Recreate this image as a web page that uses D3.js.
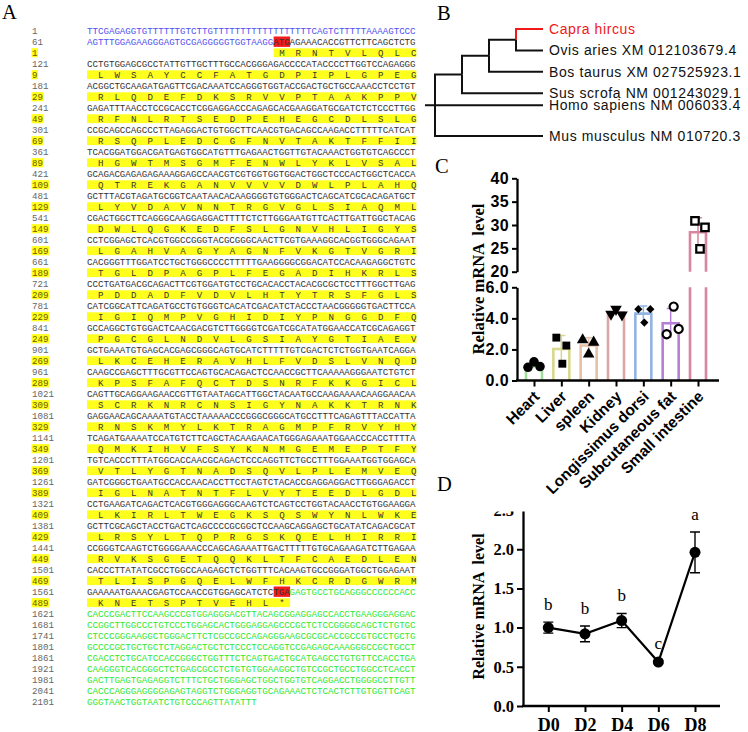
<!DOCTYPE html>
<html lang="en">
<head>
<meta charset="UTF-8">
<title>Capra hircus sequence, tree and expression</title>
<script src="https://cdn.jsdelivr.net/npm/d3@7"></script>
<style>
  body { margin: 0; background: #fff; }
  svg { display: block; }
  .seq text { font-family: "Liberation Mono", "DejaVu Sans Mono", monospace; font-size: 9.15px; }
  .tree text { font-family: "Liberation Sans", Arial, sans-serif; font-size: 14px; letter-spacing: 0.6px; }
  .serif { font-family: "Liberation Serif", "Times New Roman", serif; }
  .sans { font-family: "Liberation Sans", Arial, sans-serif; }
  .pre { white-space: pre; }
</style>
</head>
<body>
<svg id="fig" width="748" height="732"></svg>
<script>
// ---------------- data ----------------
// A: nucleotide rows (60 nt each) and translated rows
var ntRows = [
  "TTCGAGAGGTGTTTTTTGTCTTGTTTTTTTTTTTTTTTTTTCAGTCTTTTTAAAAGTCCC",
  "AGTTTGGAGAAGGGAGTGCGAGGGGGTGGTAAGGATGAGAAACACCGTTCTTCAGCTCTG",
  "CCTGTGGAGCGCCTATTGTTGCTTTGCCACGGGAGACCCCATACCCCTTGGTCCAGAGGG",
  "ACGGCTGCAAGATGAGTTCGACAAATCCAGGGTGGTACCGACTGCTGCCAAACCTCCTGT",
  "GAGATTTAACCTCCGCACCTCGGAGGACCCAGAGCACGAAGGATGCGATCTCTCCCTTGG",
  "CCGCAGCCAGCCCTTAGAGGACTGTGGCTTCAACGTGACAGCCAAGACCTTTTTCATCAT",
  "TCACGGATGGACGATGAGTGGCATGTTTGAGAACTGGTTGTACAAACTGGTGTCAGCCCT",
  "GCAGACGAGAGAGAAAGGAGCCAACGTCGTGGTGGTGGACTGGCTCCCACTGGCTCACCA",
  "GCTTTACGTAGATGCGGTCAATAACACAAGGGGTGTGGGACTCAGCATCGCACAGATGCT",
  "CGACTGGCTTCAGGGCAAGGAGGACTTTTCTCTTGGGAATGTTCACTTGATTGGCTACAG",
  "CCTCGGAGCTCACGTGGCCGGGTACGCGGGCAACTTCGTGAAAGGCACGGTGGGCAGAAT",
  "CACGGGTTTGGATCCTGCTGGGCCCCTTTTTGAAGGGGCGGACATCCACAAGAGGCTGTC",
  "CCCTGATGACGCAGACTTCGTGGATGTCCTGCACACCTACACGCGCTCCTTTGGCTTGAG",
  "CATCGGCATTCAGATGCCTGTGGGTCACATCGACATCTACCCTAACGGGGGTGACTTCCA",
  "GCCAGGCTGTGGACTCAACGACGTCTTGGGGTCGATCGCATATGGAACCATCGCAGAGGT",
  "GCTGAAATGTGAGCACGAGCGGGCAGTGCATCTTTTTGTCGACTCTCTGGTGAATCAGGA",
  "CAAGCCGAGCTTTGCGTTCCAGTGCACAGACTCCAACCGCTTCAAAAAGGGAATCTGTCT",
  "CAGTTGCAGGAAGAACCGTTGTAATAGCATTGGCTACAATGCCAAGAAAACAAGGAACAA",
  "GAGGAACAGCAAAATGTACCTAAAAACCCGGGCGGGCATGCCTTTCAGAGTTTACCATTA",
  "TCAGATGAAAATCCATGTCTTCAGCTACAAGAACATGGGAGAAATGGAACCCACCTTTTA",
  "TGTCACCCTTTATGGCACCAACGCAGACTCCCAGGTTCTGCCTTTGGAAATGGTGGAGCA",
  "GATCGGGCTGAATGCCACCAACACCTTCCTAGTCTACACCGAGGAGGACTTGGGAGACCT",
  "CCTGAAGATCAGACTCACGTGGGAGGGCAAGTCTCAGTCCTGGTACAACCTGTGGAAGGA",
  "GCTTCGCAGCTACCTGACTCAGCCCCGCGGCTCCAAGCAGGAGCTGCATATCAGACGCAT",
  "CCGGGTCAAGTCTGGGGAAACCCAGCAGAAATTGACTTTTTGTGCAGAAGATCTTGAGAA",
  "CACCCTTATATCGCCTGGCCAAGAGCTCTGGTTTCACAAGTGCCGGGATGGCTGGAGAAT",
  "GAAAAATGAAACGAGTCCAACCGTGGAGCATCTCTGAGAGTGCCTGCAGGGCCCCCCACC",
  "CACCCGACTTCCAAGCCCGTGGAGGGACGTTACAGCGGAGGAGCCACCTGAAGGGAGGAC",
  "CCGGCTTGGCCCTGTCCCTGGAGCACTGGGAGGAGCCCGCTCTCCGGGGCAGCTCTGTGC",
  "CTCCCGGGAAGGCTGGGACTTCTCGCCGCCAGAGGGAAGCGCGCACCGCCGTGCCTGCTG",
  "GCCCCGCTGCTGCTCTAGGACTGCTCTCCCTCCAGGTCCGAGAGCAAAGGGCCGCTGCCT",
  "CGACCTCTGCATCCACCGGGCTGGTTTCTCAGTGACTGCATGAGCCTGTGTTCCACCTGA",
  "CAAGGGTCACGGGCTCTGAGCGCCTCTGTGTGGAAGGCTGTCCGCTGCCTGGCCTCACCT",
  "GACTTGAGTGAGAGGTCTTTCTGCTGGGAGCTGGCTGGTGTCAGGACCTGGGGCCTTGTT",
  "CACCCAGGGAGGGGAGAGTAGGTCTGGGAGGTGCAGAAACTCTCACTCTTGTGGTTCAGT",
  "GGGTAACTGGTAATCTGTCCCAGTTATATTT"
];
var aaRows = [
  "MRNTVLQLC",
  "LWSAYCCFATGDPIPLGPEG",
  "RLQDEFDKSRVVPTAAKPPV",
  "RFNLRTSEDPEHEGCDLSLG",
  "RSQPLEDCGFNVTAKTFFII",
  "HGWTMSGMFENWLYKLVSAL",
  "QTREKGANVVVVDWLPLAHQ",
  "LYVDAVNNTRGVGLSIAQML",
  "DWLQGKEDFSLGNVHLIGYS",
  "LGAHVAGYAGNFVKGTVGRI",
  "TGLDPAGPLFEGADIHKRLS",
  "PDDADFVDVLHTYTRSFGLS",
  "IGIQMPVGHIDIYPNGGDFQ",
  "PGCGLNDVLGSIAYGTIAEV",
  "LKCEHERAVHLFVDSLVNQD",
  "KPSFAFQCTDSNRFKKGICL",
  "SCRKNRCNSIGYNAKKTRNK",
  "RNSKMYLKTRAGMPFRVYHY",
  "QMKIHVFSYKNMGEMEPTFY",
  "VTLYGTNADSQVLPLEMVEQ",
  "IGLNATNTFLVYTEEDLGDL",
  "LKIRLTWEGKSQSWYNLWKE",
  "LRSYLTQPRGSKQELHIRRI",
  "RVKSGETQQKLTFCAEDLEN",
  "TLISPGQELWFHKCRDGWRM",
  "KNETSPTVEHL*"
];
var aaStarts = [1, 9, 29, 49, 69, 89, 109, 129, 149, 169, 189, 209, 229,
                249, 269, 289, 309, 329, 349, 369, 389, 409, 429, 449, 469, 489];
var cdsStart = 94;   // 0-based index of the A of ATG

// B: tree
var treeData = {children: [
  {children: [
    {children: [
      {children: [{name: "Capra hircus"}, {name: "Ovis aries XM 012103679.4"}]},
      {name: "Bos taurus XM 027525923.1"}]},
    {name: "Sus scrofa NM 001243029.1"}]},
  {name: "Homo sapiens NM 006033.4"},
  {name: "Mus musculus NM 010720.3"}
]};
var highlight = "Capra hircus";

// C: tissue expression, three replicates each
var tissues = ["Heart", "Liver", "spleen", "Kidney", "Longissimus dorsi", "Subcutaneous fat", "Small intestine"];
var replicates = [
  [0.85, 1.2, 0.9],
  [2.76, 2.25, 1.08],
  [2.61, 2.46, 1.69],
  [4.27, 4.6, 4.23],
  [4.59, 4.59, 3.73],
  [4.76, 2.98, 3.32],
  [30.9, 29.5, 24.9]
];
var lowTicks = [0, 2, 4, 6];
var highTicks = [20, 25, 30, 35, 40];

// D: differentiation time course
var days = ["D0", "D2", "D4", "D6", "D8"];
var dayMeans = [1.0, 0.92, 1.09, 0.56, 1.96];
var daySD = [0.07, 0.1, 0.09, 0.02, 0.26];
var dayLetters = ["b", "b", "b", "c", "a"];
var dTicks = [0, 0.5, 1.0, 1.5, 2.0, 2.5];

// ---------------- drawing ----------------
var svg = d3.select("#fig");

// panel letters
[["A", 2, 19], ["B", 437, 20], ["C", 435, 173], ["D", 437, 491]].forEach(function (p) {
  svg.append("text").attr("class", "serif").attr("x", p[1]).attr("y", p[2])
    .attr("font-size", 20.5).text(p[0]);
});

// ----- A -----
var colX = d3.scaleLinear().domain([0, 60]).range([87, 416.4]);
var lineY = d3.scaleLinear().domain([0, 61]).range([30.7, 701.7]);
var cw = colX(1) - colX(0);
var nAA = d3.sum(aaRows, function (r) { return r.length; });
var cdsEnd = cdsStart + 3 * nAA - 1;

function ntLine(i) { return i < 2 ? i : (i <= aaRows.length ? 2 * i - 1 : i + aaRows.length); }
function aaLine(j) { return 2 * (j + 1); }
function ntColor(g) { return g < cdsStart ? "#5050f0" : (g <= cdsEnd ? "#333" : "#2ee82e"); }

var gA = svg.append("g").attr("class", "seq");

// red start / stop codons
[cdsStart, cdsEnd - 2].forEach(function (g) {
  var r = Math.floor(g / 60), c = g % 60;
  gA.append("rect").attr("x", colX(c)).attr("y", lineY(ntLine(r)) - 5.2)
    .attr("width", 3 * cw).attr("height", 10.4).attr("fill", "#f21c1c");
});

ntRows.forEach(function (s, i) {
  var y = lineY(ntLine(i)) + 3.2;
  gA.append("text").attr("x", 32).attr("y", y).attr("fill", "#666").text(60 * i + 1);
  var runs = [];
  for (var c = 0; c < s.length; c++) {
    var col = ntColor(60 * i + c);
    if (runs.length && runs[runs.length - 1].color === col) runs[runs.length - 1].text += s[c];
    else runs.push({color: col, text: s[c]});
  }
  gA.append("text").attr("x", colX(0)).attr("y", y)
    .selectAll("tspan").data(runs).join("tspan")
    .attr("fill", function (d) { return d.color; })
    .text(function (d) { return d.text; });
});

var k0 = 0;
aaRows.forEach(function (row, j) {
  var yc = lineY(aaLine(j));
  var rowStart = 60 * (j + 1);
  var firstCol = cdsStart + 3 * k0 - rowStart;
  var lastCol = cdsStart + 3 * (k0 + row.length) - 1 - rowStart;
  var c0 = firstCol <= 1 ? 0 : firstCol, c1 = Math.min(60, lastCol + 1);
  gA.append("rect").attr("x", colX(c0)).attr("y", yc - 4.4)
    .attr("width", colX(c1) - colX(c0)).attr("height", 8.8).attr("fill", "#ffff1e");
  var lab = String(aaStarts[j]);
  gA.append("rect").attr("x", 31.5).attr("y", yc - 4.6)
    .attr("width", lab.length * cw + 1).attr("height", 9.2).attr("fill", "#ffff1e");
  gA.append("text").attr("x", 32).attr("y", yc + 3.2).attr("fill", "#6a5c00").text(lab);
  gA.selectAll(null).data(row.split("").map(function (a, i) {
      return {a: a, g: cdsStart + 3 * (k0 + i) + 1};
    }))
    .join("text")
    .attr("x", function (d) { return colX(d.g - rowStart + 0.5); })
    .attr("y", yc + 3.2)
    .attr("text-anchor", "middle").attr("fill", "#3a3a2a")
    .text(function (d) { return d.a; });
  k0 += row.length;
});

// ----- B -----
var root = d3.hierarchy(treeData);
var leafGap = 21.4, depthGap = 27;
d3.cluster().separation(function () { return 1; })
  .size([root.leaves().length * leafGap, root.height * depthGap])(root);
// root drawn at the middle of its outer children; middle child sits on the root level
root.x = (root.children[0].x + root.children[root.children.length - 1].x) / 2;
if (root.children.length === 3) root.children[1].x = root.x;

var tx = d3.scaleLinear().domain([0, root.height * depthGap]).range([435, 543]);
var ty = function (v) { return v + 29 - leafGap / 2; };
var gB = svg.append("g").attr("class", "tree");
gB.append("line").attr("x1", tx(0) - 10).attr("x2", tx(0))
  .attr("y1", ty(root.x)).attr("y2", ty(root.x)).attr("stroke", "#111").attr("stroke-width", 2);
gB.selectAll("path").data(root.links()).join("path")
  .attr("d", function (l) {
    return "M" + tx(l.source.y) + "," + ty(l.source.x) + "V" + ty(l.target.x) + "H" + tx(l.target.y);
  })
  .attr("fill", "none").attr("stroke-width", 2)
  .attr("stroke", function (l) { return l.target.data.name === highlight ? "#f01818" : "#111"; });
gB.selectAll("text").data(root.leaves()).join("text")
  .attr("x", function (d) { return tx(d.y) + 6; })
  .attr("y", function (d) { return ty(d.x) + 5; })
  .attr("fill", function (d) { return d.data.name === highlight ? "#f01818" : "#111"; })
  .text(function (d) { return d.data.name; });

// ----- C -----
var tissueColors = ["#a3dd9b", "#d8d88c", "#e6c1a8", "#d9a7a5", "#92b4e2", "#b47fd6", "#d8869f"];
var symbols = [
  {type: d3.symbolCircle, size: 72, open: false, rot: 0},
  {type: d3.symbolSquare, size: 62, open: false, rot: 0},
  {type: d3.symbolTriangle, size: 58, open: false, rot: 0},
  {type: d3.symbolTriangle, size: 58, open: false, rot: 180},
  {type: d3.symbolSquare, size: 34, open: false, rot: 45},
  {type: d3.symbolCircle, size: 52, open: true, rot: 0},
  {type: d3.symbolSquare, size: 56, open: true, rot: 0}
];
var jitter = [[-6, 0, 6], [-5, 5, 1], [-6, 5, 0], [-5, 0, 6], [-5, 7, 1], [3, -4, 8], [-3, 7, 2]];

var xC = d3.scalePoint().domain(tissues).range([534, 698]);
var yLo = d3.scaleLinear().domain([0, 6]).range([380.5, 287.3]);
var yHi = d3.scaleLinear().domain([20, 40]).range([271.7, 178.3]);
function yC(v) { return v <= 6 ? yLo(v) : yHi(v); }
var barW = 16;

var gC = svg.append("g");
var statsC = tissues.map(function (t, i) {
  return {t: t, i: i, m: d3.mean(replicates[i]), sd: d3.deviation(replicates[i]), vals: replicates[i]};
});

// bars
statsC.forEach(function (d) {
  var x0 = xC(d.t) - barW / 2, x1 = xC(d.t) + barW / 2;
  var p;
  if (d.m <= 6) {
    p = "M" + x0 + "," + yLo(0) + "V" + yLo(d.m) + "H" + x1 + "V" + yLo(0);
  } else {
    p = "M" + x0 + "," + yLo(0) + "V" + yLo(6) + "M" + x1 + "," + yLo(0) + "V" + yLo(6) +
        "M" + x0 + "," + yHi(20) + "V" + yHi(d.m) + "H" + x1 + "V" + yHi(20);
  }
  gC.append("path").attr("d", p).attr("fill", "none")
    .attr("stroke", tissueColors[d.i]).attr("stroke-width", 2.6);
  var xm = xC(d.t);
  gC.append("path")
    .attr("d", "M" + xm + "," + yC(d.m - d.sd) + "V" + yC(d.m + d.sd) +
               "M" + (xm - 4) + "," + yC(d.m + d.sd) + "H" + (xm + 4))
    .attr("fill", "none").attr("stroke", tissueColors[d.i]).attr("stroke-width", 1.5);
});

// points
statsC.forEach(function (d) {
  var s = symbols[d.i];
  gC.selectAll(null).data(d.vals).join("path")
    .attr("d", d3.symbol().type(s.type).size(s.size))
    .attr("transform", function (v, k) {
      return "translate(" + (xC(d.t) + jitter[d.i][k]) + "," + yC(v) + ") rotate(" + s.rot + ")";
    })
    .attr("fill", s.open ? "#fff" : "#000")
    .attr("stroke", "#000").attr("stroke-width", s.open ? 2.2 : 0);
});

// axes
function styleAxis(g, font) {
  g.select(".domain").attr("stroke", "#000").attr("stroke-width", 2.3);
  g.selectAll(".tick line").attr("stroke", "#000").attr("stroke-width", 2);
  g.selectAll(".tick text").attr("fill", "#000").attr("font-family", font)
    .attr("font-weight", "bold");
}
var sansF = "'Liberation Sans', Arial, sans-serif", serifF = "'Liberation Serif', 'Times New Roman', serif";
var axHi = gC.append("g").attr("transform", "translate(517,0)")
  .call(d3.axisLeft(yHi).tickValues(highTicks).tickSize(5).tickSizeOuter(0).tickPadding(3));
var axLo = gC.append("g").attr("transform", "translate(517,0)")
  .call(d3.axisLeft(yLo).tickValues(lowTicks).tickSize(5).tickSizeOuter(0).tickPadding(3));
[axHi, axLo].forEach(function (a) {
  styleAxis(a, sansF);
  a.selectAll(".tick text").attr("font-size", 16).attr("letter-spacing", "0.4px");
});

gC.append("line").attr("x1", 516).attr("x2", 719).attr("y1", yLo(0)).attr("y2", yLo(0))
  .attr("stroke", "#000").attr("stroke-width", 2.3);
var axX = gC.append("g").attr("transform", "translate(0," + yLo(0) + ")")
  .call(d3.axisBottom(xC).tickSize(6).tickSizeOuter(0));
axX.select(".domain").remove();
styleAxis(axX, sansF);
axX.selectAll(".tick text").attr("font-size", 15.5).attr("text-anchor", "end")
  .attr("y", 0).attr("dy", 0).attr("transform", "translate(6,17) rotate(-45)");

gC.append("text").attr("class", "serif pre")
  .attr("transform", "translate(484,279) rotate(-90)")
  .attr("text-anchor", "middle").attr("font-size", 16.5).attr("font-weight", "bold")
  .text("Relative mRNA  level");

// ----- D -----
svg.append("clipPath").attr("id", "clipD")
  .append("rect").attr("x", 440).attr("y", 511.5).attr("width", 308).attr("height", 221);
var gD = svg.append("g").attr("clip-path", "url(#clipD)");
var xD = d3.scalePoint().domain(days).range([548.3, 695]);
var yD = d3.scaleLinear().domain([0, 2.5]).range([706, 510]);

var axDy = gD.append("g").attr("transform", "translate(523,0)")
  .call(d3.axisLeft(yD).tickValues(dTicks).tickFormat(d3.format(".1f")).tickSize(6).tickSizeOuter(0).tickPadding(3));
styleAxis(axDy, serifF);
axDy.selectAll(".tick text").attr("font-size", 16.5);

gD.append("line").attr("x1", 522).attr("x2", 720).attr("y1", yD(0)).attr("y2", yD(0))
  .attr("stroke", "#000").attr("stroke-width", 2.3);
var axDx = gD.append("g").attr("transform", "translate(0," + yD(0) + ")")
  .call(d3.axisBottom(xD).tickSize(6).tickSizeOuter(0));
axDx.select(".domain").remove();
styleAxis(axDx, serifF);
axDx.selectAll(".tick text").attr("font-size", 18).attr("y", 25).attr("dy", 0);

var ptsD = days.map(function (d, i) { return {d: d, m: dayMeans[i], sd: daySD[i], l: dayLetters[i]}; });
gD.append("path").datum(ptsD)
  .attr("d", d3.line().x(function (p) { return xD(p.d); }).y(function (p) { return yD(p.m); }))
  .attr("fill", "none").attr("stroke", "#000").attr("stroke-width", 2.2);
gD.selectAll(".eb").data(ptsD).join("path").attr("class", "eb")
  .attr("d", function (p) {
    var x = xD(p.d), y0 = yD(p.m - p.sd), y1 = yD(p.m + p.sd);
    return "M" + x + "," + y0 + "V" + y1 + "M" + (x - 5) + "," + y0 + "H" + (x + 5) +
           "M" + (x - 5) + "," + y1 + "H" + (x + 5);
  })
  .attr("fill", "none").attr("stroke", "#000").attr("stroke-width", 1.4);
gD.selectAll(".pt").data(ptsD).join("circle").attr("class", "pt")
  .attr("cx", function (p) { return xD(p.d); }).attr("cy", function (p) { return yD(p.m); })
  .attr("r", 5.5).attr("fill", "#000");
gD.selectAll(".lt").data(ptsD).join("text").attr("class", "lt serif")
  .attr("x", function (p) { return xD(p.d); })
  .attr("y", function (p) { return yD(p.m + p.sd) - 12; })
  .attr("text-anchor", "middle").attr("font-size", 17)
  .text(function (p) { return p.l; });

svg.append("text").attr("class", "serif pre")
  .attr("transform", "translate(484,606.5) rotate(-90)")
  .attr("text-anchor", "middle").attr("font-size", 16).attr("font-weight", "bold")
  .text("Relative mRNA  level");
</script>
</body>
</html>
